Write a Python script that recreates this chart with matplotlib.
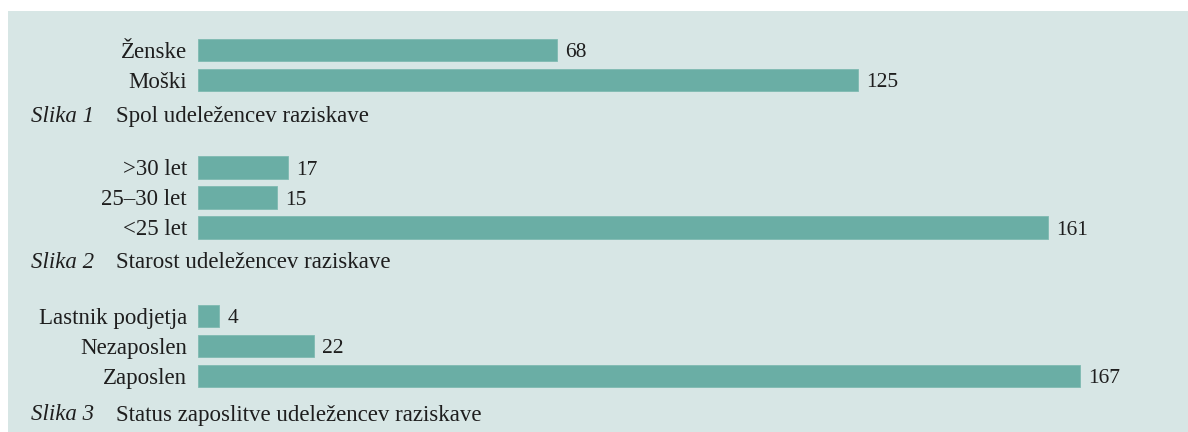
import matplotlib.pyplot as plt
from matplotlib.patches import Rectangle

# Data (bars listed top to bottom)
spol_labels = ["Ženske", "Moški"]
spol_values = [68, 125]

starost_labels = [">30 let", "25–30 let", "<25 let"]
starost_values = [17, 15, 161]

status_labels = ["Lastnik podjetja", "Nezaposlen", "Zaposlen"]
status_values = [4, 22, 167]

captions = [
    ("Slika 1", "Spol udeležencev raziskave"),
    ("Slika 2", "Starost udeležencev raziskave"),
    ("Slika 3", "Status zaposlitve udeležencev raziskave"),
]

BG = "#d7e6e5"
BAR = "#6aaea5"
TXT = "#1e1e1e"
FONT = "Liberation Serif"
FS = 16.5

W, H = 1188, 432
fig = plt.figure(figsize=(W / 100, H / 100), dpi=100, facecolor="white")

# shaded panel, kept behind the axes
fig.patches.append(Rectangle((8 / W, 0), 1 - 8 / W, 1 - 11 / H,
                             transform=fig.transFigure, facecolor=BG,
                             edgecolor="none", zorder=-10))

X0 = 198          # left edge of bars in px
PX_PER_UNIT = 5.28
XMAX = (W - X0) / PX_PER_UNIT
ROW = 30          # px per bar row

sections = [
    (spol_labels, spol_values, 35, 117),
    (starost_labels, starost_values, 152.5, 263),
    (status_labels, status_values, 301, 415),
]

for (labels, values, top, cap_y), (slika, title) in zip(sections, captions):
    n = len(labels)
    h = n * ROW
    ax = fig.add_axes([X0 / W, 1 - (top + h) / H, 1 - X0 / W, h / H])
    ax.set_facecolor("none")
    ax.set_zorder(2)
    y = list(range(n))
    ax.barh(y, values, height=0.74, color=BAR, edgecolor="#7fbab2",
            linewidth=0.6)
    # value labels just right of each bar, sitting a touch low like the original
    for yi, v in zip(y, values):
        ax.annotate(str(v), (v, yi), xytext=(6, -2), textcoords="offset points",
                    ha="left", va="center", fontsize=FS - 1, family=FONT,
                    color=TXT)
    ax.set_xlim(0, XMAX)
    ax.set_ylim(n - 0.5, -0.5)
    ax.set_yticks(y)
    ax.set_yticklabels(labels, fontsize=FS, family=FONT, color=TXT)
    ax.tick_params(axis="y", length=0, pad=8)
    ax.set_xticks([])
    for s in ax.spines.values():
        s.set_visible(False)

    fig.text(31 / W, 1 - cap_y / H, slika, fontsize=FS, family=FONT,
             style="italic", color=TXT, ha="left", va="center")
    fig.text(116 / W, 1 - cap_y / H, title, fontsize=FS, family=FONT,
             color=TXT, ha="left", va="center")

fig.savefig("out.png", dpi=100, facecolor=fig.get_facecolor())
